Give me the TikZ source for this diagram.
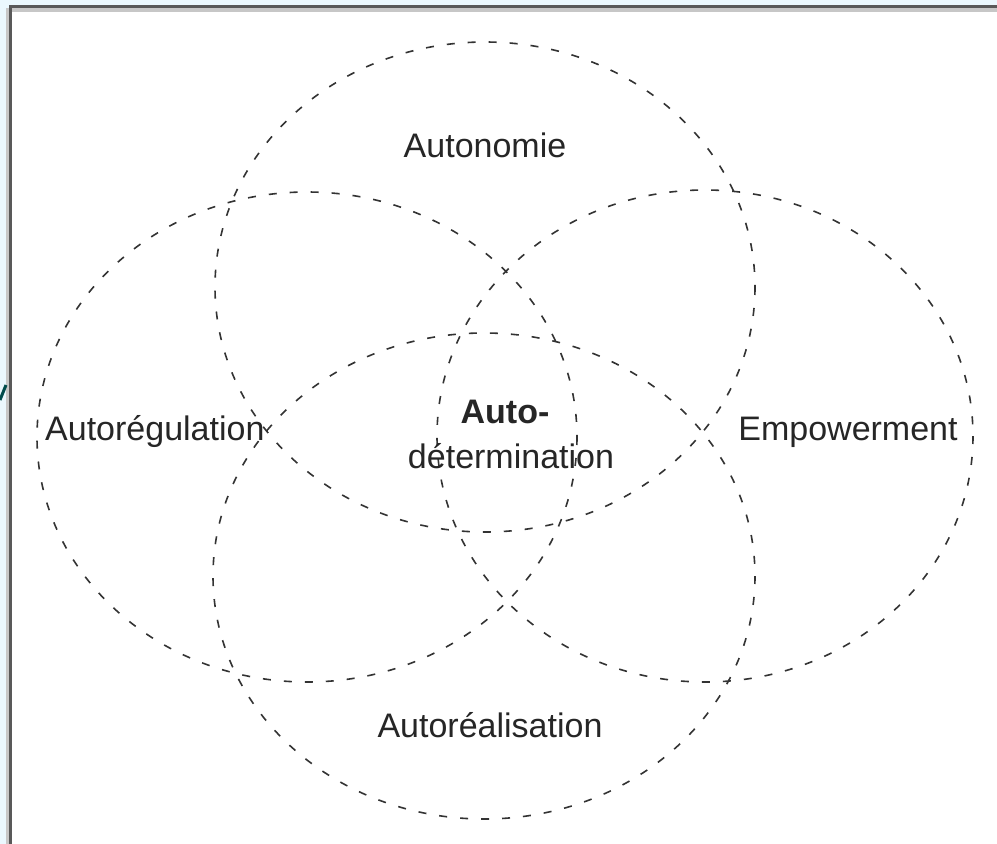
\documentclass[tikz,border=0pt]{standalone}
\usepackage{fontspec}
\setmainfont{Liberation Sans}
\begin{document}
\begin{tikzpicture}[x=1pt,y=-1pt,
  ring/.style={draw=black!80, line width=1.6pt, dash pattern=on 8pt off 13pt},
  lbl/.style={font=\fontsize{34}{38}\selectfont, text=black!85, inner sep=0pt}]
\useasboundingbox (0,0) rectangle (997,844);
% page background / frame
\fill[cyan!8!white] (0,0) rectangle (997,844);
\fill[white] (12,8) rectangle (997,844);
\fill[black!22] (6,8) rectangle (9,844);
\fill[black!22] (12,8) rectangle (997,12);
\fill[black!65] (9,5) rectangle (12,844);
\fill[black!65] (9,5) rectangle (997,8);
\draw[line width=3pt, teal!60!black] (0,400) -- (6,385);
% ellipses
\draw[ring] (485,287) ellipse [x radius=270, y radius=245];
\draw[ring] (307,437) ellipse [x radius=270, y radius=245];
\draw[ring] (705,436) ellipse [x radius=268, y radius=246];
\draw[ring] (484,576) ellipse [x radius=271, y radius=243];
% labels
\node[lbl] (aut) at (485,145) {Autonomie};
\node[lbl, anchor=west] (reg) at (45,432) {Autorégulation};
\node[lbl] (emp) at (848,432) {Empowerment};
\node[lbl] (rea) at (490,725) {Autoréalisation};
\node[lbl, font=\fontsize{34}{38}\selectfont\bfseries] (det1) at (505,412) {Auto-};
\node[lbl] (det2) at (511,456) {détermination};
\end{tikzpicture}
\end{document}
